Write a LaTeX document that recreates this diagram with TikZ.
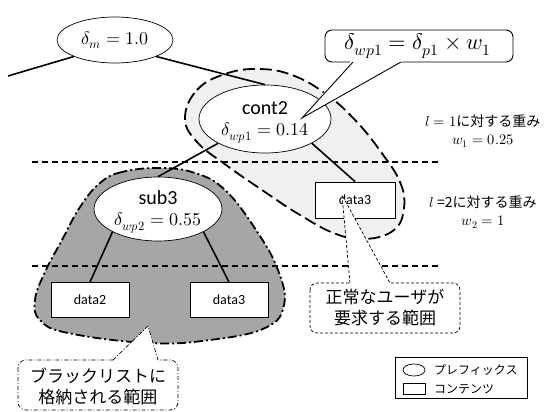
\documentclass[tikz,border=0pt]{standalone}
\usepackage{fontspec}
\usepackage{unicode-math}
\setmainfont{Carlito}
\setmathfont{Latin Modern Math}
\newfontfamily\jp{Noto Sans CJK JP}
\usetikzlibrary{shapes.geometric}

\definecolor{lightreg}{HTML}{F0F0F0}
\definecolor{darkreg}{HTML}{A6A6A6}

\begin{document}
\begin{tikzpicture}[x=1pt,y=-1pt,
  prefixnode/.style={ellipse, draw, fill=white, line width=0.7pt, inner sep=0pt},
  contentbox/.style={rectangle, draw, fill=white, line width=0.9pt,
    minimum width=78pt, minimum height=35pt, inner sep=0pt,
    font=\fontsize{14}{16}\selectfont},
  treeedge/.style={line width=1.6pt},
  levelline/.style={line width=1.3pt, dash pattern=on 6pt off 4pt},
  namelbl/.style={font=\fontsize{20}{22}\selectfont, inner sep=0pt},
  vallbl/.style={font=\fontsize{18}{20}\selectfont, inner sep=0pt},
  weightlbl/.style={font=\fontsize{14.5}{16}\selectfont, inner sep=0pt},
  calltext/.style={font=\jp\fontsize{17}{21}\selectfont, align=center, inner sep=0pt},
  legtext/.style={font=\jp\fontsize{12}{14}\selectfont, anchor=west, inner sep=0pt},
]
\useasboundingbox (0,0) rectangle (546,412);

% range of the normal user's request
\filldraw[fill=lightreg, line width=1.8pt, dash pattern=on 12pt off 5pt]
  plot[smooth cycle, tension=0.7] coordinates {(185,118) (197,90) (225,74) (258,69)
    (292,75) (326,94) (356,121) (381,152) (400,182) (404,208) (394,230) (366,239)
    (336,234) (300,215) (262,190) (226,165) (197,142)};

% range stored in the blacklist
\filldraw[fill=darkreg, line width=1.8pt, dash pattern=on 9pt off 3pt on 2pt off 3pt]
  plot[smooth cycle, tension=0.7] coordinates {(160,168) (122,172) (100,183) (80,207)
    (62,240) (45,272) (35,300) (40,320) (68,333) (148,343) (210,340) (265,328)
    (284,305) (278,270) (256,230) (225,190) (195,173)};

% level separators
\coordinate (l1a) at (32,162); \coordinate (l1b) at (440,162);
\coordinate (l2a) at (32,266); \coordinate (l2b) at (440,266);
\draw[levelline] (l1a) -- (l1b);
\draw[levelline] (l2a) -- (l2b);

% tree nodes
\node[prefixnode, minimum width=116pt, minimum height=46pt] (root) at (115,40) {};
\node[vallbl] (rootval) at (115,40) {$\delta_m = 1.0$};

\node[prefixnode, minimum width=132pt, minimum height=68pt] (cont2) at (265,119) {};
\node[namelbl] (cont2name) at (265,108) {cont2};
\node[vallbl] (cont2val) at (265,133) {$\delta_{wp1} = 0.14$};

\node[prefixnode, minimum width=128pt, minimum height=64pt] (sub3) at (158,209) {};
\node[namelbl] (sub3name) at (158,198) {sub3};
\node[vallbl] (sub3val) at (158,223) {$\delta_{wp2} = 0.55$};

\node[contentbox, minimum width=80pt, minimum height=36pt] (d3r) at (355,200) {data3};
\node[contentbox] (d2) at (90,300) {data2};
\node[contentbox] (d3) at (229,300) {data3};

% tree edges
\coordinate (leftend) at (8,76);
\draw[treeedge] (root.south west) -- (leftend);
\draw[treeedge] (root.south east) -- (cont2.north);
\draw[treeedge] (cont2.south west) -- (sub3.north);
\draw[treeedge] (cont2.south east) -- (d3r.north);
\draw[treeedge] (sub3.south west) -- (d2.north);
\draw[treeedge] (sub3.south east) -- (d3.north);

% level weights
\node[weightlbl] (w1a) at (483,121) {$l = 1${\jp\fontsize{14}{16}\selectfont に対する重み}};
\node[weightlbl] (w1b) at (483,141) {$w_1 = 0.25$};
\node[weightlbl] (w2a) at (483,202) {$l$ {\jp\fontsize{14}{16}\selectfont =2に対する重み}};
\node[weightlbl] (w2b) at (483,222) {$w_2 = 1$};

% formula callout
\coordinate (eqtip) at (302,118);
\coordinate (eqbl) at (353,62); \coordinate (eqbr) at (401,62);
\draw[fill=white, line width=0.9pt, rounded corners=7pt] (325,30) rectangle (513,62);
\fill[white] (351,61) -- (eqtip) -- (403,61) -- cycle;
\draw[line width=0.9pt, line join=miter] (eqbl) -- (eqtip) -- (eqbr);
\node[font=\fontsize{22.5}{25}\selectfont, inner sep=0pt] (eq) at (418,46)
  {$\delta_{wp1} = \delta_{p1} \times w_1$};

% callout: normal user request
\coordinate (nutip) at (342,195);
\coordinate (nubl) at (350,283); \coordinate (nubr) at (390,283);
\draw[fill=white, line width=0.7pt, dash pattern=on 3pt off 2pt, rounded corners=7pt]
  (310,283) rectangle (460,333);
\fill[white] (350,284) -- (nutip) -- (390,284) -- cycle;
\draw[line width=0.7pt, dash pattern=on 3pt off 2pt] (nubl) -- (nutip) -- (nubr);
\node[calltext] (nutext) at (385,308) {正常なユーザが\\要求する範囲};

% callout: blacklist range
\coordinate (bltip) at (148,326);
\coordinate (blbl) at (113,360); \coordinate (blbr) at (158,360);
\draw[fill=white, line width=0.7pt, dash pattern=on 4pt off 2pt on 1pt off 2pt, rounded corners=8pt]
  (18,360) rectangle (178,410);
\fill[white] (113,361) -- (bltip) -- (158,361) -- cycle;
\draw[line width=0.7pt, dash pattern=on 4pt off 2pt on 1pt off 2pt] (blbl) -- (bltip) -- (blbr);
\node[calltext] (bltext) at (98,386) {ブラックリストに\\格納される範囲};

% legend
\node[draw, line width=0.9pt, minimum width=132pt, minimum height=41pt, inner sep=0pt] (legend) at (461,377.5) {};
\node[ellipse, draw, line width=0.7pt, minimum width=22pt, minimum height=12pt, inner sep=0pt] (legell) at (414,370) {};
\node[draw, line width=0.7pt, minimum width=22pt, minimum height=11pt, inner sep=0pt] (legrect) at (414,389) {};
\node[legtext] (legpre) at (434,370) {プレフィックス};
\node[legtext] (legcon) at (434,389) {コンテンツ};
\end{tikzpicture}
\end{document}
